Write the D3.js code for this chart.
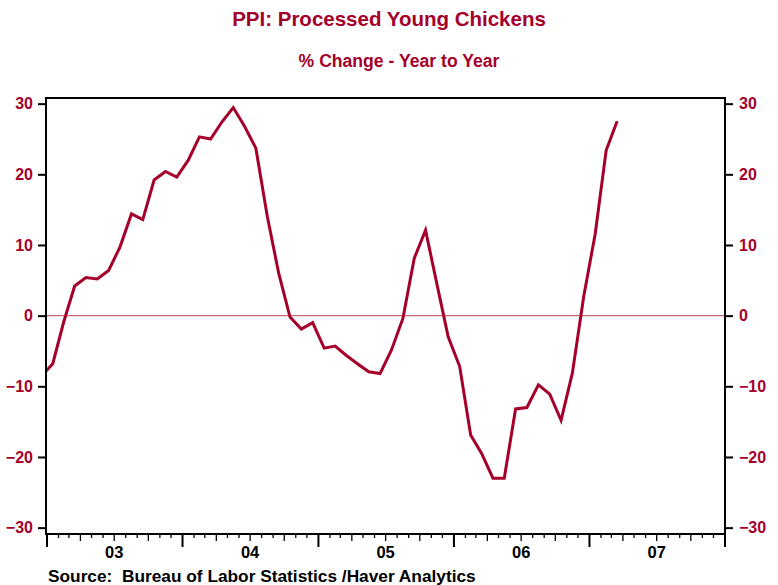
<!DOCTYPE html>
<html>
<head>
<meta charset="utf-8">
<script src="https://cdn.jsdelivr.net/npm/d3@7"></script>
<style>
  body { margin: 0; background: #fff; }
  text { font-family: "Liberation Sans", Arial, sans-serif; }
</style>
</head>
<body>
<div id="chart"></div>
<script>
// monthly series, Dec 2002 .. Mar 2007 (first point sits left of the frame and is clipped)
var firstMonth = new Date(2002, 11, 1);
var pctChange = [
    -8.6,
    -6.8, -0.9, 4.2, 5.4, 5.2, 6.4, 9.7, 14.4, 13.6, 19.2, 20.4, 19.6,
    22.0, 25.3, 25.0, 27.4, 29.45, 26.8, 23.7, 14.0, 6.0, -0.2, -1.9, -1.0,
    -4.6, -4.3, -5.6, -6.8, -7.95, -8.2, -4.9, -0.4, 8.1, 12.1, 4.5, -3.0,
    -7.2, -16.9, -19.5, -23.0, -23.0, -13.2, -13.0, -9.8, -11.1, -14.8, -8.1, 2.7,
    11.6, 23.4, 27.5
];
var yearLabels = ["03", "04", "05", "06", "07"];
var yTicks = [-30, -20, -10, 0, 10, 20, 30];

var width = 778, height = 585;
var plotL = 46, plotR = 725, plotT = 98, plotB = 534;
var red = "#a5002a";

var svg = d3.select("#chart").append("svg")
    .attr("width", width)
    .attr("height", height);

var x = d3.scaleTime()
    .domain([new Date(2003, 0, 1), new Date(2008, 0, 1)])
    .range([plotL + 1, plotR]);

var y = d3.scaleLinear()
    .domain([-30.9, 30.8])
    .range([plotB, plotT]);

// mid-month positions, like Haver plots monthly data
var points = pctChange.map(function(v, i) {
    var s = d3.timeMonth.offset(firstMonth, i);
    var e = d3.timeMonth.offset(firstMonth, i + 1);
    return { date: new Date((+s + +e) / 2), value: v };
});

// titles
svg.append("text")
    .attr("x", 389).attr("y", 26)
    .attr("text-anchor", "middle")
    .attr("fill", red)
    .style("font-size", "20.5px")
    .style("font-weight", "bold")
    .text("PPI: Processed Young Chickens");

svg.append("text")
    .attr("x", 399).attr("y", 67)
    .attr("text-anchor", "middle")
    .attr("fill", red)
    .style("font-size", "17.6px")
    .style("font-weight", "bold")
    .text("% Change - Year to Year");

// zero line
svg.append("line")
    .attr("x1", plotL).attr("x2", plotR)
    .attr("y1", y(0)).attr("y2", y(0))
    .attr("stroke", "#c96a7b")
    .attr("stroke-width", 1.2);

svg.append("clipPath").attr("id", "plotClip")
    .append("rect")
    .attr("x", plotL + 1).attr("y", plotT)
    .attr("width", plotR - plotL - 1).attr("height", plotB - plotT);

var line = d3.line()
    .x(function(d) { return x(d.date); })
    .y(function(d) { return y(d.value); });

svg.append("path")
    .datum(points)
    .attr("clip-path", "url(#plotClip)")
    .attr("d", line)
    .attr("fill", "none")
    .attr("stroke", red)
    .attr("stroke-width", 3)
    .attr("stroke-linejoin", "miter");

// frame
svg.append("rect")
    .attr("x", plotL).attr("y", plotT)
    .attr("width", plotR - plotL).attr("height", plotB - plotT)
    .attr("fill", "none")
    .attr("stroke", "#000")
    .attr("stroke-width", 2);

// y axes, both sides
var yLeft = svg.append("g")
    .attr("transform", "translate(" + plotL + ",0)")
    .call(d3.axisLeft(y).tickValues(yTicks).tickSize(8).tickPadding(5));
var yRight = svg.append("g")
    .attr("transform", "translate(" + plotR + ",0)")
    .call(d3.axisRight(y).tickValues(yTicks).tickSize(8).tickPadding(6));

[yLeft, yRight].forEach(function(g) {
    g.select(".domain").remove();
    g.selectAll(".tick line").attr("stroke", "#000").attr("stroke-width", 2);
    g.selectAll(".tick text")
        .attr("fill", red)
        .style("font-size", "16px")
        .style("font-weight", "bold")
        .style("font-family", "'Liberation Sans', Arial, sans-serif");
});

// x axis: month, quarter and year ticks
var months = d3.timeMonth.range(new Date(2003, 0, 1), new Date(2008, 0, 2));
svg.append("g").selectAll("line")
    .data(months)
    .enter()
    .append("line")
    .attr("x1", function(d) { return x(d); })
    .attr("x2", function(d) { return x(d); })
    .attr("y1", plotB)
    .attr("y2", function(d) {
        if (d.getMonth() === 0) return plotB + 13;
        if (d.getMonth() % 3 === 0) return plotB + 7;
        return plotB + 4;
    })
    .attr("stroke", "#000")
    .attr("stroke-width", function(d) { return d.getMonth() === 0 ? 2 : 1.3; });

svg.append("g").selectAll("text")
    .data(yearLabels)
    .enter()
    .append("text")
    .attr("x", function(d, i) { return x(new Date(2003 + i, 6, 1)); })
    .attr("y", 558)
    .attr("text-anchor", "middle")
    .attr("fill", "#000")
    .style("font-size", "16.5px")
    .style("font-weight", "bold")
    .text(function(d) { return d; });

svg.append("text")
    .attr("x", 48).attr("y", 582)
    .attr("fill", "#000")
    .style("font-size", "17.3px")
    .style("font-weight", "bold")
    .style("white-space", "pre")
    .text("Source:  Bureau of Labor Statistics /Haver Analytics");
</script>
</body>
</html>
